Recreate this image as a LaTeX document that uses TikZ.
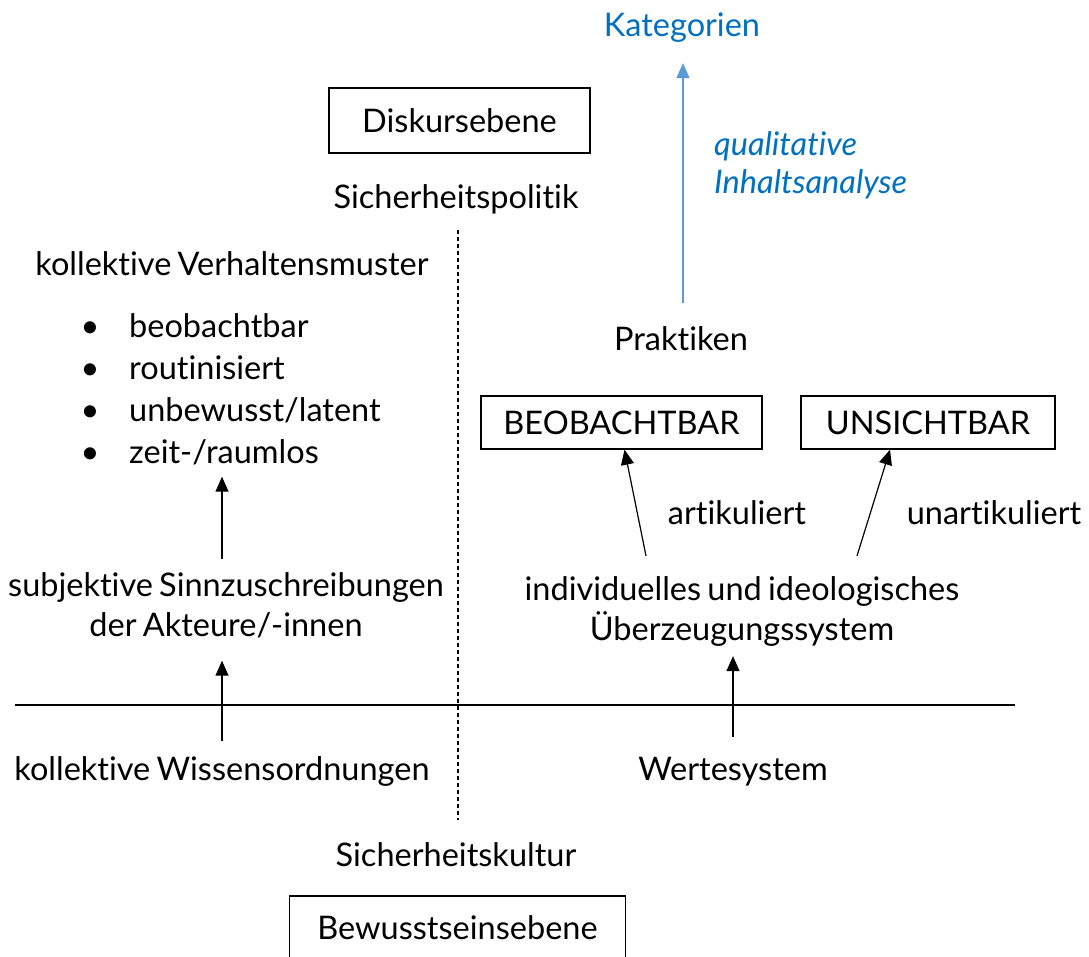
\documentclass[tikz,border=0pt]{standalone}
\usepackage{fontspec}
\setmainfont{Lato}[Ligatures={NoCommon,NoContextual}, WordSpace=0.75]
\usetikzlibrary{arrows.meta}
\definecolor{catblue}{HTML}{0070C0}
\definecolor{arrowblue}{HTML}{5B9BD5}
\begin{document}
\begin{tikzpicture}[x=1pt,y=-1pt,
  txt/.style={font=\fontsize{32.5}{40}\selectfont, inner sep=0pt},
  lbl/.style={txt, anchor=base},
  two/.style={txt, align=center, anchor=base},
  framed/.style={txt, draw, line width=1.4pt, anchor=center},
  arr/.style={line width=1.2pt, -{Triangle[width=13pt,length=15pt]}},
  bluearr/.style={line width=1.2pt, draw=arrowblue, -{Triangle[width=13pt,length=15pt]}, arrowblue},
  divider/.style={line width=1.2pt},
  dashdiv/.style={line width=1.2pt, dash pattern=on 4pt off 3pt}]
\useasboundingbox (0,0) rectangle (1089,956);

% upper half: discourse level
\node[lbl, text=catblue] (kat) at (682,36) {Kategorien};
\node[lbl, text=catblue, anchor=base west, align=left, font=\fontsize{32.5}{38}\itshape\selectfont]
  (qia) at (714,193) {qualitative\\Inhaltsanalyse};
\node[framed, minimum width=261pt, minimum height=65pt] (disk) at (459.5,120.5) {Diskursebene};
\node[lbl] (spol) at (456,208) {Sicherheitspolitik};

% left column
\node[lbl] (kvm) at (232,275) {kollektive Verhaltensmuster};
\node[lbl] (bi1) at (90,337) {•};
\node[lbl] (bi2) at (90,379) {•};
\node[lbl] (bi3) at (90,421) {•};
\node[lbl] (bi4) at (90,463) {•};
\node[lbl, anchor=base west] (i1) at (129,337) {beobachtbar};
\node[lbl, anchor=base west] (i2) at (129,379) {routinisiert};
\node[lbl, anchor=base west] (i3) at (129,421) {unbewusst/latent};
\node[lbl, anchor=base west] (i4) at (129,463) {zeit-/raumlos};
\node[two] (subj) at (226,636) {subjektive Sinnzuschreibungen\\der Akteure/-innen};
\node[lbl] (kwo) at (222,780) {kollektive Wissensordnungen};

% right column
\node[lbl] (prak) at (681,350) {Praktiken};
\node[framed, minimum width=281pt, minimum height=53pt] (beo) at (621.5,422.5) {BEOBACHTBAR};
\node[framed, minimum width=254pt, minimum height=53pt] (uns) at (928,422.5) {UNSICHTBAR};
\node[lbl] (art) at (737,524) {artikuliert};
\node[lbl] (unart) at (994,524) {unartikuliert};
\node[two] (indiv) at (742,640) {individuelles und ideologisches\\Überzeugungssystem};
\node[lbl] (wert) at (733,780) {Wertesystem};

% lower half: level of consciousness
\node[lbl] (skul) at (456,866) {Sicherheitskultur};
\node[framed, minimum width=336pt, minimum height=64pt] (bew) at (457.5,928) {Bewusstseinsebene};

% axes
\coordinate (hl) at (15,705);
\coordinate (hr) at (1015,705);
\coordinate (vt) at (458,230);
\coordinate (vb) at (458,820);
\draw[divider] (hl) -- (hr);
\draw[dashdiv] (vt) -- (vb);

% connectors
\draw[bluearr] ([shift={(2,-23)}]prak.north) -- ([shift={(1,21)}]kat.south);
\draw[arr] ([yshift=13pt]subj.north -| kwo.north) -- ([yshift=-12pt]i4.south -| kwo.north);
\draw[arr] ([yshift=15pt]kwo.north) -- ([yshift=-23pt]subj.south -| kwo.north);
\draw[arr] ([shift={(-96,-20)}]indiv.north) -- ([shift={(3,0)}]beo.south);
\draw[arr] ([shift={(115,-20)}]indiv.north) -- ([shift={(-38,0)}]uns.south);
\draw[arr] ([yshift=20pt]wert.north) -- ([yshift=-10pt]indiv.south -| wert.north);
\end{tikzpicture}
\end{document}
